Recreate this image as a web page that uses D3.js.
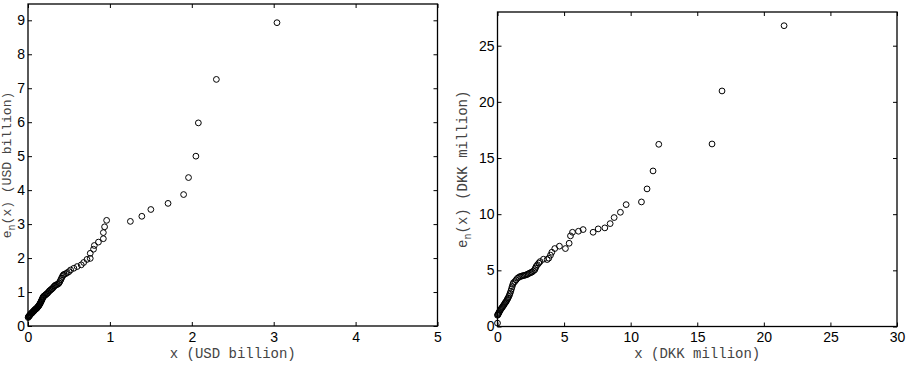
<!DOCTYPE html>
<html><head><meta charset="utf-8">
<script src="https://cdn.jsdelivr.net/npm/d3@7"></script>
<style>
body{margin:0;background:#fff;}
svg{display:block;}
.tick text{font-family:"Liberation Sans",Arial,sans-serif;font-size:14px;fill:#000;}
.lab{font-family:"Liberation Mono","Courier New",monospace;font-size:14px;fill:#444;}
</style></head>
<body>
<svg id="c" width="906" height="366"></svg>
<script>
// Left panel: mean excess e_n(x), USD billion
const usdX = [0.002,0.005,0.008,0.012,0.016,0.02,0.025,0.03,0.035,0.04,0.045,0.05,0.055,0.06,0.065,0.07,0.075,0.08,0.085,0.09,0.095,0.10,0.105,0.11,0.115,0.12,0.125,0.13,0.135,0.14,0.145,0.15,0.155,0.16,0.165,0.17,0.175,0.18,0.185,0.19,0.20,0.21,0.22,0.23,0.24,0.25,0.26,0.27,0.28,0.29,0.30,0.31,0.32,0.33,0.34,0.355,0.37,0.38,0.39,0.40,0.41,0.42,0.43,0.44,0.46,0.48,0.50,0.52,0.56,0.60,0.65,0.68,0.72,0.76,0.76,0.80,0.81,0.86,0.92,0.92,0.935,0.96,1.25,1.39,1.50,1.71,1.90,1.96,2.05,2.08,2.30,3.04];
const usdY = [0.25,0.27,0.28,0.29,0.30,0.31,0.33,0.34,0.36,0.37,0.38,0.39,0.40,0.42,0.43,0.44,0.45,0.47,0.48,0.49,0.50,0.51,0.52,0.53,0.55,0.56,0.58,0.59,0.61,0.63,0.65,0.67,0.70,0.72,0.75,0.77,0.80,0.83,0.85,0.87,0.89,0.91,0.93,0.95,0.97,1.00,1.03,1.05,1.07,1.09,1.11,1.14,1.17,1.19,1.21,1.22,1.24,1.27,1.31,1.36,1.41,1.46,1.50,1.52,1.54,1.57,1.60,1.65,1.70,1.75,1.80,1.87,1.96,1.99,2.14,2.26,2.37,2.47,2.57,2.75,2.92,3.11,3.08,3.23,3.43,3.61,3.87,4.37,5.00,5.98,7.26,8.93];
// Right panel: mean excess e_n(x), DKK million
const dkkX = [0.0,0.0,0.02,0.05,0.08,0.11,0.15,0.2,0.25,0.3,0.35,0.4,0.45,0.5,0.55,0.6,0.65,0.7,0.75,0.8,0.85,0.9,0.95,1.0,1.05,1.1,1.15,1.2,1.3,1.4,1.5,1.6,1.7,1.8,1.9,2.0,2.1,2.2,2.3,2.4,2.5,2.6,2.7,2.8,2.85,2.9,3.0,3.1,3.2,3.45,3.73,3.85,3.98,4.08,4.30,4.65,5.10,5.38,5.48,5.63,6.08,6.43,7.18,7.56,8.06,8.46,8.76,9.23,9.66,10.81,11.23,11.68,12.11,16.11,16.86,21.52];
const dkkY = [0.30,1.0,1.05,1.1,1.17,1.24,1.33,1.43,1.53,1.62,1.7,1.78,1.87,1.96,2.06,2.15,2.22,2.33,2.45,2.55,2.67,2.82,2.97,3.15,3.35,3.55,3.75,3.9,4.0,4.15,4.3,4.38,4.45,4.48,4.52,4.55,4.58,4.62,4.68,4.75,4.8,4.85,4.95,5.05,5.2,5.35,5.5,5.65,5.78,5.99,5.96,6.08,6.35,6.61,6.94,7.15,6.94,7.41,8.07,8.39,8.48,8.63,8.39,8.69,8.78,9.16,9.70,10.17,10.85,11.09,12.25,13.85,16.22,16.25,20.97,26.78];

const usdXTicks = [0,1,2,3,4,5];
const usdYTicks = [0,1,2,3,4,5,6,7,8,9];
const dkkXTicks = [0,5,10,15,20,25,30];
const dkkYTicks = [0,5,10,15,20,25];

const svg = d3.select("#c");

function panel(o){
  const x = d3.scaleLinear().domain(o.xd).range([o.x0,o.x1]);
  const y = d3.scaleLinear().domain(o.yd).range([o.y1,o.y0]);
  const g = svg.append("g");
  const fmt = d3.format("d");
  g.append("g").attr("transform",`translate(0,${o.y1})`)
    .call(d3.axisBottom(x).tickValues(o.xt).tickFormat(fmt).tickSizeInner(-4).tickSizeOuter(0).tickPadding(6))
    .call(a=>a.select(".domain").remove());
  g.append("g").attr("transform",`translate(0,${o.y0})`)
    .call(d3.axisTop(x).tickValues(o.xt).tickFormat("").tickSizeInner(-4).tickSizeOuter(0))
    .call(a=>a.select(".domain").remove());
  g.append("g").attr("transform",`translate(${o.x0},0)`)
    .call(d3.axisLeft(y).tickValues(o.yt).tickFormat(fmt).tickSizeInner(-4).tickSizeOuter(0).tickPadding(3))
    .call(a=>a.select(".domain").remove());
  g.append("g").attr("transform",`translate(${o.x1},0)`)
    .call(d3.axisRight(y).tickValues(o.yt).tickFormat("").tickSizeInner(-4).tickSizeOuter(0))
    .call(a=>a.select(".domain").remove());
  g.selectAll(".tick line").attr("stroke","#000");
  g.append("rect").attr("x",o.x0).attr("y",o.y0).attr("width",o.x1-o.x0).attr("height",o.y1-o.y0)
    .attr("fill","none").attr("stroke","#000").attr("stroke-width",1.3);
  g.append("g").selectAll("circle").data(d3.zip(o.xs,o.ys)).join("circle")
    .attr("cx",d=>x(d[0])).attr("cy",d=>y(d[1])).attr("r",2.9)
    .attr("fill","none").attr("stroke","#000").attr("stroke-width",1);
  g.append("text").attr("class","lab").attr("x",(o.x0+o.x1)/2).attr("y",358)
    .attr("text-anchor","middle").text(o.xl);
  const yl = g.append("text").attr("class","lab")
    .attr("transform",`translate(${o.ylx},${(o.y0+o.y1)/2}) rotate(-90)`)
    .attr("text-anchor","middle").style("font-size",o.ylfs+"px");
  yl.append("tspan").text("e");
  yl.append("tspan").attr("dy",4).attr("font-size",10).text("n");
  yl.append("tspan").attr("dy",-4).text("(x)  " + o.yunit);
}

panel({x0:28,x1:437.5,y0:4,y1:326,xd:[0,5],yd:[0,9.48],xt:usdXTicks,yt:usdYTicks,
  xs:usdX,ys:usdY,xl:"x (USD billion)",yunit:"(USD billion)",ylx:11,ylfs:13});
panel({x0:497.5,x1:897,y0:12,y1:326.5,xd:[0,30],yd:[0,28],xt:dkkXTicks,yt:dkkYTicks,
  xs:dkkX,ys:dkkY,xl:"x (DKK million)",yunit:"(DKK million)",ylx:467,ylfs:14});
</script>
</body></html>
